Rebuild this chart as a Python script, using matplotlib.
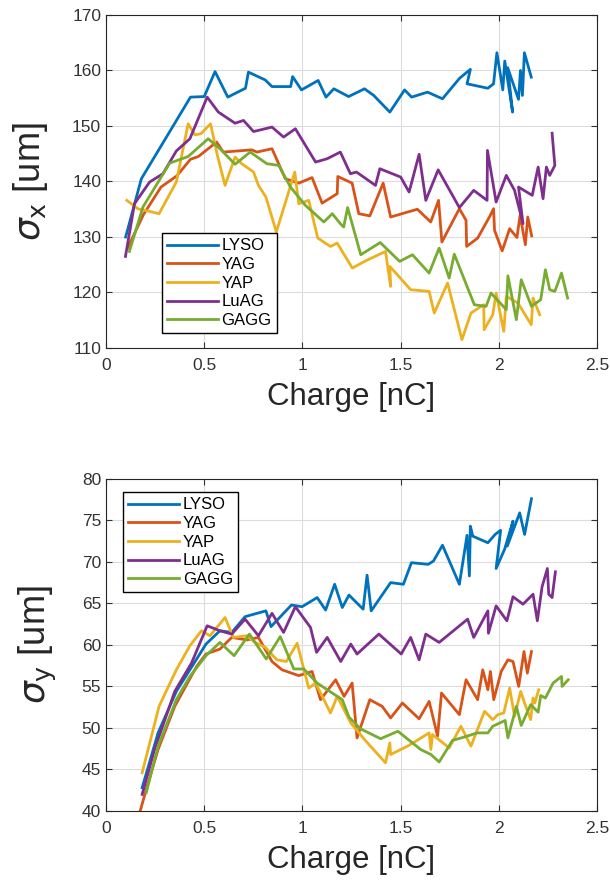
import matplotlib
matplotlib.use("Agg")
import matplotlib.pyplot as plt

# MATLAB default line colours
names = ["LYSO", "YAG", "YAP", "LuAG", "GAGG"]
colors = ["#0072BD", "#D95319", "#EDB120", "#7E2F8E", "#77AC30"]

# ---- sigma_x (top panel) ----
sx_lyso_q = [0.10, 0.18, 0.43, 0.50, 0.555, 0.62, 0.71, 0.725, 0.81, 0.845, 0.94, 0.95, 0.995, 1.08, 1.12, 1.16,
             1.235, 1.316, 1.363, 1.445, 1.52, 1.556, 1.637, 1.713, 1.80, 1.855, 1.838, 1.944, 1.973, 1.99, 2.02,
             2.03, 2.07, 2.045, 2.10, 2.11, 2.12, 2.13, 2.165]
sx_lyso = [130, 140.5, 155.2, 155.3, 159.8, 155.2, 156.8, 159.7, 158.3, 157.1, 157.1, 158.9, 156.5, 158.2, 155.2, 156.7,
           155.3, 156.7, 155.5, 152.5, 156.5, 155.2, 156.1, 154.9, 158.6, 160.2, 157.6, 156.8, 157.6, 163.2, 156.5,
           161.7, 152.5, 160.5, 154.8, 160, 155.5, 163.2, 158.8]

sx_yag_q = [0.11, 0.19, 0.28, 0.36, 0.43, 0.47, 0.563, 0.597, 0.742, 0.768, 0.845, 0.913, 0.981, 1.049, 1.10, 1.177,
            1.18, 1.253, 1.287, 1.343, 1.411, 1.449, 1.585, 1.653, 1.693, 1.71, 1.799, 1.833, 1.836, 1.892, 1.952,
            1.973, 1.978, 2.017, 2.055, 2.092, 2.108, 2.135, 2.147, 2.167]
sx_yag = [128, 134, 139, 141, 144, 144.5, 147.1, 145.3, 145.7, 145.3, 145.9, 140.5, 139.7, 140.7, 136.1, 137.8,
          140.9, 139.7, 134.2, 133.8, 139.7, 133.6, 135, 132.7, 136.6, 129.1, 135.1, 133, 128.3, 129.8, 133.6,
          135.1, 131.2, 127.5, 131.5, 129.9, 133.9, 128.6, 133.6, 130.2]

sx_yap_q = [0.106, 0.162, 0.27, 0.358, 0.418, 0.452, 0.483, 0.532, 0.567, 0.606, 0.657, 0.691, 0.751, 0.776, 0.814,
            0.867, 0.961, 0.981, 1.032, 1.078, 1.143, 1.177, 1.254, 1.316, 1.423, 1.449, 1.445, 1.551, 1.645, 1.671,
            1.739, 1.812, 1.858, 1.923, 1.925, 1.969, 1.986, 2.025, 2.038, 2.097, 2.165, 2.174, 2.208]
sx_yap = [136.6, 135.1, 134.2, 139.9, 150.4, 148.4, 148.6, 150.4, 144.7, 139.3, 144.4, 143.2, 141.7, 139.3, 137.2,
          130.9, 141.7, 136, 136.6, 129.8, 128.3, 128.9, 124.4, 125.6, 127.4, 121.1, 124.7, 120.5, 120.2, 116.3,
          121.7, 111.5, 116.3, 117.8, 113.3, 116, 119.9, 113, 119.3, 118.1, 114.2, 119, 116]

sx_luag_q = [0.099, 0.145, 0.222, 0.29, 0.358, 0.427, 0.515, 0.572, 0.657, 0.70, 0.751, 0.845, 0.904, 0.964, 1.067,
             1.126, 1.193, 1.244, 1.275, 1.372, 1.394, 1.50, 1.543, 1.594, 1.628, 1.691, 1.799, 1.872, 1.94, 1.942,
             1.986, 2.038, 2.08, 2.123, 2.10, 2.17, 2.20, 2.225, 2.242, 2.259, 2.285, 2.271]
sx_luag = [126.5, 136, 139.9, 141.4, 145.5, 147.7, 155.2, 152.5, 150.5, 151, 149, 149.8, 148, 149.5, 143.5,
           144.1, 145.3, 141.4, 141.7, 139.3, 142.3, 140.8, 138.1, 144.9, 136.6, 142.1, 135.3, 138.4, 136.6, 145.6,
           136.3, 141.1, 138.4, 132.4, 139, 137.5, 142.6, 136.9, 142.6, 141.1, 142.9, 148.7]

sx_gagg_q = [0.119, 0.188, 0.324, 0.418, 0.52, 0.58, 0.657, 0.734, 0.819, 0.879, 0.939, 1.015, 1.109, 1.152, 1.193,
             1.21, 1.23, 1.297, 1.396, 1.495, 1.56, 1.645, 1.696, 1.747, 1.773, 1.875, 1.935, 1.96, 2.038, 2.046,
             2.089, 2.114, 2.166, 2.213, 2.237, 2.259, 2.285, 2.319, 2.35]
sx_gagg = [127.4, 135.4, 143.3, 144.5, 147.7, 145.9, 143.1, 145.3, 143.2, 142.9, 139, 135.7, 132.7, 134.2, 132.4,
           131.8, 135.3, 126.8, 129, 125.6, 126.8, 123.5, 128, 122.6, 126.9, 117.8, 117.5, 119.9, 116.9, 123,
           115.1, 122.3, 117.5, 118.7, 124.1, 120.5, 120.2, 123.5, 119]

# ---- sigma_y (bottom panel) ----
sy_lyso_q = [0.184, 0.265, 0.358, 0.427, 0.509, 0.58, 0.64, 0.708, 0.814, 0.84, 0.944, 0.998, 1.075, 1.118, 1.164,
             1.203, 1.237, 1.309, 1.329, 1.35, 1.449, 1.514, 1.555, 1.64, 1.667, 1.713, 1.799, 1.838, 1.85, 1.855,
             1.867, 1.944, 1.981, 2.009, 1.986, 2.029, 2.072, 2.043, 2.106, 2.131, 2.166]
sy_lyso = [42.8, 49.4, 54.4, 57.0, 60.1, 61.7, 61.5, 63.4, 64.1, 62.2, 64.8, 64.6, 65.7, 64.2, 67.3,
           64.5, 66, 64.3, 68.4, 64.1, 67.5, 67.3, 69.9, 69.7, 70.1, 72, 67.3, 73.2, 68.3, 74.3,
           73.1, 72.3, 73.3, 73.8, 69.2, 71.5, 74.9, 71.9, 75.9, 73.3, 77.6]

sy_yag_q = [0.174, 0.205, 0.265, 0.35, 0.461, 0.509, 0.58, 0.64, 0.717, 0.776, 0.845, 0.896, 0.981, 1.049, 1.092,
            1.169, 1.212, 1.253, 1.278, 1.343, 1.406, 1.449, 1.509, 1.594, 1.645, 1.688, 1.708, 1.799, 1.833, 1.892,
            1.918, 1.944, 1.957, 1.974, 2.012, 2.046, 2.072, 2.101, 2.128, 2.145, 2.166]
sy_yag = [40, 42.6, 47.4, 52.6, 57.4, 58.9, 59.5, 60.9, 60.6, 60.9, 58, 57, 56.3, 56.8, 53.4,
          55.8, 53.8, 55.4, 48.8, 53.4, 52.6, 51.2, 53, 51.1, 53.2, 49, 54.2, 51.6, 55.8, 53.4,
          57.0, 54.6, 56.8, 53.4, 56.8, 58.2, 58, 55, 59.2, 56.6, 59.2]

sy_yap_q = [0.184, 0.27, 0.358, 0.427, 0.486, 0.529, 0.606, 0.648, 0.717, 0.759, 0.811, 0.87, 0.918, 0.973, 1.032,
            1.067, 1.143, 1.177, 1.246, 1.316, 1.423, 1.445, 1.449, 1.543, 1.645, 1.654, 1.662, 1.747, 1.807, 1.858,
            1.927, 1.969, 1.995, 2.025, 2.055, 2.08, 2.111, 2.131, 2.162, 2.174, 2.183, 2.203]
sy_yap = [44.6, 52.6, 57.0, 59.9, 61.7, 61.1, 63.3, 60.9, 61.1, 60.3, 59.7, 58.2, 58, 60.2, 54.8,
          55.4, 51.8, 53.8, 50.6, 48.6, 45.8, 48.2, 46.8, 47.9, 49.4, 47.4, 49.2, 47.6, 50.2, 47.8,
          52, 51, 51.6, 51.8, 54.8, 51.4, 54.4, 53, 51, 53.6, 53, 54.6]

sy_luag_q = [0.184, 0.247, 0.35, 0.435, 0.515, 0.58, 0.64, 0.708, 0.776, 0.845, 0.904, 0.964, 1.041, 1.072, 1.126,
             1.195, 1.246, 1.278, 1.389, 1.503, 1.551, 1.594, 1.628, 1.696, 1.841, 1.872, 1.944, 1.947, 1.986, 2.041,
             2.072, 2.123, 2.174, 2.196, 2.22, 2.247, 2.254, 2.271, 2.288]
sy_luag = [42, 47.4, 54.4, 57.8, 62.3, 61.7, 61.3, 63.1, 61.1, 63.8, 61.5, 64.6, 62.1, 59.1, 60.9,
           58, 60.1, 58.9, 61.3, 58.9, 60.9, 58.2, 61.3, 60.3, 63.1, 60.9, 64.1, 61.4, 64.7, 62.9,
           65.8, 64.9, 66.1, 62.9, 67, 69.2, 66.1, 65.7, 68.8]

sy_gagg_q = [0.205, 0.265, 0.358, 0.427, 0.509, 0.58, 0.652, 0.73, 0.816, 0.887, 0.956, 1.007, 1.075, 1.203, 1.237,
             1.295, 1.398, 1.486, 1.602, 1.654, 1.696, 1.764, 1.824, 1.889, 1.944, 1.969, 2.032, 2.046, 2.089, 2.114,
             2.162, 2.2, 2.213, 2.237, 2.276, 2.319, 2.322, 2.353]
sy_gagg = [42.2, 47.8, 53.4, 56.2, 58.7, 60.3, 58.7, 61.3, 58.3, 61, 57.1, 57.1, 55.4, 53.4, 51.3,
           49.9, 48.7, 49.6, 47.4, 46.8, 45.9, 48.5, 48.9, 49.4, 49.4, 50.2, 50.9, 48.8, 52.6, 50.3,
           52.8, 51.9, 53.9, 53.6, 55.4, 56.2, 55, 55.8]

x_ticks = [0, 0.5, 1, 1.5, 2, 2.5]
x_tick_labels = ["0", "0.5", "1", "1.5", "2", "2.5"]

plt.rcParams['font.family'] = ['Liberation Sans', 'DejaVu Sans']
plt.rcParams['mathtext.fontset'] = 'dejavusans'

fig = plt.figure(figsize=(6.1, 8.81), dpi=100)
ax1 = fig.add_axes([0.1738, 0.605, 0.805, 0.378])
ax2 = fig.add_axes([0.1738, 0.0795, 0.805, 0.377])

top = [(sx_lyso_q, sx_lyso), (sx_yag_q, sx_yag), (sx_yap_q, sx_yap), (sx_luag_q, sx_luag), (sx_gagg_q, sx_gagg)]
bot = [(sy_lyso_q, sy_lyso), (sy_yag_q, sy_yag), (sy_yap_q, sy_yap), (sy_luag_q, sy_luag), (sy_gagg_q, sy_gagg)]

for (q, s), c, n in zip(top, colors, names):
    ax1.plot(q, s, color=c, lw=2.0, label=n)
for (q, s), c, n in zip(bot, colors, names):
    ax2.plot(q, s, color=c, lw=2.0, label=n)

ax1.set_ylim(110, 170)
ax1.set_yticks(range(110, 171, 10))
ax2.set_ylim(40, 80)
ax2.set_yticks(range(40, 81, 5))

for ax, lab in [(ax1, r'$\sigma_{\rm x}$ [um]'), (ax2, r'$\sigma_{\rm y}$ [um]')]:
    ax.set_xlim(0, 2.5)
    ax.set_xticks(x_ticks)
    ax.set_xticklabels(x_tick_labels)
    ax.grid(True, color='#dcdcdc', lw=0.8)
    ax.set_axisbelow(True)
    ax.tick_params(direction='in', length=4, width=0.8, colors='#333333', labelsize=12.5,
                   top=True, right=True)
    ax.tick_params(axis='x', pad=7)
    for sp in ax.spines.values():
        sp.set_color('#262626')
        sp.set_linewidth(0.8)
    ax.set_xlabel('Charge [nC]', fontsize=22.5, color='#262626', labelpad=7)
    ax.set_ylabel(lab, fontsize=26, color='#262626', labelpad=16)

leg_kw = dict(fontsize=12, frameon=True, fancybox=False, edgecolor='black', framealpha=1,
              handlelength=3.1, handletextpad=0.2, labelspacing=0.22, borderpad=0.3, borderaxespad=0)
l1 = ax1.legend(loc='lower left', bbox_to_anchor=(0.113, 0.045), **leg_kw)
l2 = ax2.legend(loc='upper left', bbox_to_anchor=(0.034, 0.959), **leg_kw)
for l in (l1, l2):
    l.get_frame().set_linewidth(1.0)

fig.savefig('out.png', dpi=100)
